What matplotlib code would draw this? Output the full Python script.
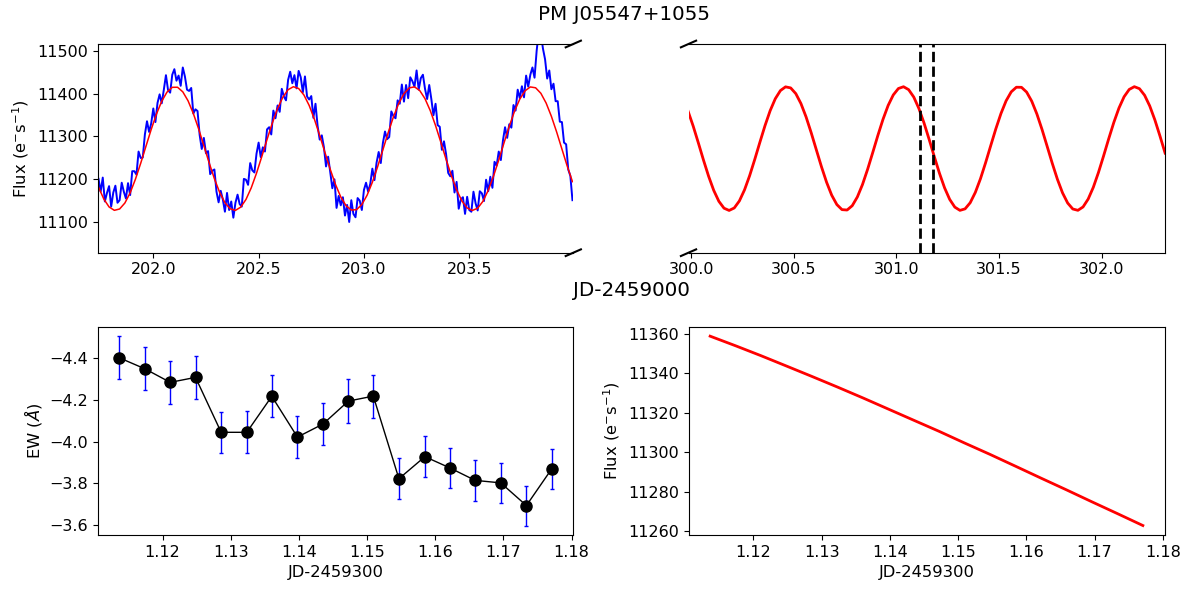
import numpy as np
import matplotlib
matplotlib.use("Agg")
import matplotlib.pyplot as plt

# ---------------- data ----------------
title = "PM J05547+1055"

# TESS light curve (JD-2459000), sampled every 0.01 d from 201.74
lc_t0 = 201.74
lc_dt = 0.01
lc_flux = [
    11200, 11170, 11203, 11147, 11167, 11183, 11135, 11168, 11184, 11144,
    11150, 11191, 11170, 11154, 11190, 11162, 11218, 11218, 11210, 11264,
    11249, 11250, 11304, 11335, 11310, 11330, 11365, 11333, 11378, 11398,
    11377, 11409, 11443, 11408, 11402, 11444, 11457, 11430, 11442, 11418,
    11461, 11440, 11409, 11406, 11413, 11353, 11363, 11359, 11303, 11270,
    11296, 11260, 11265, 11211, 11219, 11222, 11170, 11145, 11172, 11152,
    11123, 11167, 11127, 11147, 11109, 11144, 11163, 11141, 11135, 11200,
    11198, 11186, 11237, 11220, 11215, 11259, 11285, 11251, 11274, 11264,
    11316, 11321, 11304, 11360, 11342, 11372, 11357, 11411, 11393, 11384,
    11432, 11451, 11424, 11443, 11412, 11453, 11438, 11403, 11440, 11393,
    11386, 11394, 11343, 11376, 11324, 11292, 11302, 11274, 11229, 11252,
    11216, 11178, 11199, 11132, 11160, 11138, 11157, 11114, 11139, 11099,
    11150, 11118, 11110, 11155, 11149, 11127, 11174, 11191, 11170, 11188,
    11224, 11197, 11238, 11263, 11237, 11284, 11311, 11293, 11298, 11358,
    11347, 11342, 11384, 11376, 11421, 11381, 11420, 11389, 11438, 11429,
    11416, 11454, 11409, 11436, 11444, 11411, 11387, 11420, 11387, 11349,
    11376, 11326, 11322, 11268, 11288, 11258, 11214, 11206, 11219, 11168,
    11193, 11130, 11152, 11157, 11118, 11158, 11127, 11123, 11170, 11143,
    11126, 11171, 11166, 11148, 11198, 11171, 11205, 11179, 11240, 11231,
    11264, 11244, 11290, 11321, 11296, 11328, 11320, 11373, 11360, 11409,
    11389, 11417, 11391, 11442, 11416, 11444, 11461, 11437, 11500, 11545,
    11540, 11505, 11480, 11435, 11454, 11410, 11423, 11382, 11382, 11334,
    11333, 11285, 11281, 11222, 11207, 11150,
]

# sinusoidal model, sampled every 0.025 d
model_left_t0 = 201.74
model_right_t0 = 299.985
model_dt = 0.025
model_left = [
    11180.4, 11152.8, 11134.2, 11126.3, 11129.4, 11143.4, 11167.2, 11199.0, 11236.3, 11276.2,
    11315.8, 11351.9, 11381.9, 11403.3, 11414.5, 11414.7, 11403.9, 11382.9, 11353.2, 11317.3,
    11277.8, 11237.8, 11200.4, 11168.3, 11144.2, 11129.8, 11126.2, 11133.7, 11151.8, 11179.0,
    11213.4, 11252.1, 11292.3, 11330.8, 11364.8, 11391.5, 11409.0, 11415.9, 11411.7, 11396.6,
    11372.0, 11339.5, 11301.8, 11261.7, 11222.4, 11186.8, 11157.6, 11137.2, 11127.0, 11127.9,
    11139.8, 11161.7, 11192.1, 11228.5, 11268.2, 11308.1, 11345.1, 11376.5, 11399.7, 11413.1,
    11415.6, 11406.9, 11387.8, 11359.8, 11324.9, 11285.9, 11245.7, 11207.5, 11174.2, 11148.3,
    11131.8, 11126.0, 11131.3, 11147.4, 11173.0, 11206.1, 11244.1, 11284.3, 11323.4, 11358.5,
    11386.9, 11406.3, 11415.4, 11413.4, 11400.5, 11377.6, 11346.5, 11309.7, 11269.8, 11230.1,
    11193.5,
]
model_right = [
    11358.5, 11323.4, 11284.3, 11244.1, 11206.1, 11173.0, 11147.4, 11131.3, 11126.0, 11131.8,
    11148.3, 11174.2, 11207.5, 11245.7, 11285.9, 11324.9, 11359.8, 11387.8, 11406.9, 11415.6,
    11413.1, 11399.7, 11376.5, 11345.2, 11308.1, 11268.2, 11228.5, 11192.1, 11161.7, 11139.8,
    11127.9, 11127.0, 11137.1, 11157.6, 11186.7, 11222.4, 11261.7, 11301.8, 11339.5, 11372.0,
    11396.6, 11411.7, 11415.9, 11409.0, 11391.6, 11364.8, 11330.9, 11292.3, 11252.2, 11213.4,
    11179.1, 11151.9, 11133.8, 11126.2, 11129.7, 11144.1, 11168.3, 11200.3, 11237.8, 11277.8,
    11317.3, 11353.2, 11382.9, 11403.9, 11414.7, 11414.5, 11403.3, 11381.9, 11352.0, 11315.9,
    11276.3, 11236.4, 11199.1, 11167.2, 11143.4, 11129.4, 11126.3, 11134.2, 11152.7, 11180.2,
    11214.8, 11253.6, 11293.8, 11332.2, 11365.9, 11392.4, 11409.5, 11416.0, 11411.3, 11395.9,
    11370.9, 11338.2, 11300.3, 11260.3,
]

# spectroscopic window (JD-2459000)
window = [301.114, 301.177]

# equivalent widths (JD-2459300)
ew_t = [1.11365, 1.11741, 1.12112, 1.12483, 1.12859, 1.13235, 1.13602, 1.13978, 1.14354,
        1.14725, 1.15091, 1.15467, 1.15848, 1.16214, 1.16585, 1.16961, 1.17337, 1.17708]
ew = [-4.403, -4.350, -4.285, -4.309, -4.045, -4.045, -4.218, -4.022, -4.085,
      -4.195, -4.219, -3.822, -3.928, -3.874, -3.814, -3.802, -3.693, -3.869]
ew_err = [0.104, 0.103, 0.102, 0.103, 0.099, 0.100, 0.101, 0.101, 0.099,
          0.104, 0.103, 0.098, 0.097, 0.097, 0.097, 0.097, 0.096, 0.098]
# model flux at the spectra times
model_at_spec = [11358.8, 11353.9, 11348.9, 11343.7, 11338.4, 11333.0, 11327.6, 11321.9, 11316.2,
                 11310.6, 11304.8, 11299.0, 11292.9, 11287.0, 11281.1, 11275.0, 11269.0, 11263.0]

# ---------------- figure ----------------
W, H = 1192, 594
fig = plt.figure(figsize=(W / 100, H / 100), dpi=100)

TICK = 11.5
LAB = 11.8

def ax_px(x0, y0, x1, y1):
    return fig.add_axes([x0 / W, 1 - y1 / H, (x1 - x0) / W, (y1 - y0) / H])

ax1 = ax_px(97.7, 44.0, 573.3, 252.7)
ax2 = ax_px(688.5, 44.0, 1164.5, 252.7)
ax3 = ax_px(97.7, 326.7, 573.3, 535.0)
ax4 = ax_px(688.5, 326.7, 1164.5, 535.0)

lc_time = lc_t0 + lc_dt * np.arange(len(lc_flux))
ml_time = model_left_t0 + model_dt * np.arange(len(model_left))
mr_time = model_right_t0 + model_dt * np.arange(len(model_right))

ax1.plot(lc_time, lc_flux, color="blue", lw=1.4)
ax1.plot(ml_time, model_left, color="red", lw=1.1)
ax1.set_xlim(201.736, 203.994)
ax1.set_ylim(11027, 11516)
ax1.set_xticks([202.0, 202.5, 203.0, 203.5])
ax1.set_yticks([11100, 11200, 11300, 11400, 11500])
ax1.set_ylabel(r"Flux (e$^{-}$s$^{-1}$)", fontsize=LAB)
ax1.spines["right"].set_visible(False)

ax2.plot(mr_time, model_right, color="red", lw=2)
for w in window:
    ax2.axvline(w, color="black", ls="--", lw=2)
ax2.set_xlim(299.987, 302.307)
ax2.set_ylim(11027, 11516)
ax2.set_xticks([300.0, 300.5, 301.0, 301.5, 302.0])
ax2.spines["left"].set_visible(False)
ax2.tick_params(axis="y", left=False, labelleft=False)

for ax in (ax1, ax2, ax3, ax4):
    ax.tick_params(labelsize=TICK)

d = 0.016
kw = dict(color="k", clip_on=False, lw=1.5)
ax1.plot((1 - d, 1 + d), (-d, d), transform=ax1.transAxes, **kw)
ax1.plot((1 - d, 1 + d), (1 - d, 1 + d), transform=ax1.transAxes, **kw)
ax2.plot((-d, d), (-d, d), transform=ax2.transAxes, **kw)
ax2.plot((-d, d), (1 - d, 1 + d), transform=ax2.transAxes, **kw)

fig.text(624 / W, 1 - 20 / H, title, ha="center", va="baseline", fontsize=14.3)
fig.text(631 / W, 1 - 296.5 / H, "JD-2459000", ha="center", va="baseline", fontsize=14.3)

ax3.errorbar(ew_t, ew, yerr=ew_err, fmt="o-", color="black", ms=8, lw=1,
             ecolor="blue", elinewidth=1, capsize=1.5)
ax3.invert_yaxis()
ax3.set_xticks([1.12, 1.13, 1.14, 1.15, 1.16, 1.17, 1.18])
ax3.set_yticks([-4.4, -4.2, -4.0, -3.8, -3.6])
ax3.set_ylabel(r"EW ($\AA$)", fontsize=LAB)
ax3.set_xlabel("JD-2459300", fontsize=LAB)

ax4.plot(ew_t, model_at_spec, color="red", lw=2)
ax4.set_xticks([1.12, 1.13, 1.14, 1.15, 1.16, 1.17, 1.18])
ax4.set_ylabel(r"Flux (e$^{-}$s$^{-1}$)", fontsize=LAB)
ax4.set_xlabel("JD-2459300", fontsize=LAB)

fig.savefig("out.png", dpi=100)
